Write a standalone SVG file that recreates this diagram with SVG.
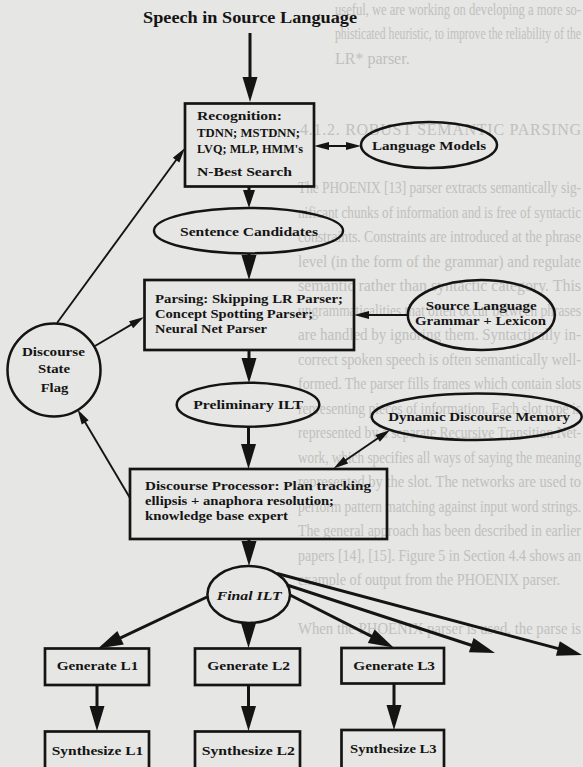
<svg xmlns="http://www.w3.org/2000/svg" width="583" height="767" viewBox="0 0 583 767">
<style>
.bg{fill:#e6e6e4}
.ghost{font-family:"Liberation Serif",serif;font-size:16px;fill:#c0c0be}
.box{fill:none;stroke:#141414;stroke-width:2.7}
.ell{fill:none;stroke:#141414;stroke-width:2.5}
.t{font-family:"Liberation Serif",serif;font-weight:bold;fill:#141414}
.s12{font-size:12px}
.s13{font-size:13px}
.s16{font-size:16.5px}
.thick{fill:none;stroke:#141414;stroke-width:3}
.thin{fill:none;stroke:#141414;stroke-width:1.9}
</style>
<defs>
<marker id="big" markerUnits="userSpaceOnUse" markerWidth="25" markerHeight="15" refX="17" refY="7.5" orient="auto" overflow="visible">
<path d="M0,0 L25,7.5 L0,15 Z" fill="#141414"/>
</marker>
<marker id="mid" markerUnits="userSpaceOnUse" markerWidth="18" markerHeight="12" refX="12" refY="6" orient="auto" overflow="visible">
<path d="M0,0 L18,6 L0,12 Z" fill="#141414"/>
</marker>
<marker id="sm" markerUnits="userSpaceOnUse" markerWidth="15" markerHeight="8" refX="10" refY="4" orient="auto-start-reverse" overflow="visible">
<path d="M0,0 L15,4 L0,8 Z" fill="#141414"/>
</marker>
</defs>
<rect class="bg" x="0" y="0" width="583" height="767"/>

<g id="ghost-text" class="ghost">
<text x="335" y="15" textLength="246" lengthAdjust="spacingAndGlyphs">useful, we are working on developing a more so-</text>
<text x="335" y="39" textLength="246" lengthAdjust="spacingAndGlyphs">phisticated heuristic, to improve the reliability of the</text>
<text x="335" y="64">LR* parser.</text>
<text x="300" y="135" textLength="281" lengthAdjust="spacing">4.1.2.   ROBUST SEMANTIC PARSING</text>
<text x="298" y="193" textLength="283" lengthAdjust="spacingAndGlyphs">The PHOENIX [13] parser extracts semantically sig-</text>
<text x="298" y="217.5" textLength="283" lengthAdjust="spacingAndGlyphs">nificant chunks of information and is free of syntactic</text>
<text x="298" y="242" textLength="283" lengthAdjust="spacingAndGlyphs">constraints. Constraints are introduced at the phrase</text>
<text x="298" y="266.5" textLength="283" lengthAdjust="spacingAndGlyphs">level (in the form of the grammar) and regulate</text>
<text x="298" y="291" textLength="283" lengthAdjust="spacingAndGlyphs">semantic rather than syntactic category. This</text>
<text x="298" y="315.5" textLength="283" lengthAdjust="spacingAndGlyphs">ungrammaticalities that often occur between phrases</text>
<text x="298" y="340" textLength="283" lengthAdjust="spacingAndGlyphs">are handled by ignoring them. Syntactically in-</text>
<text x="298" y="364.5" textLength="283" lengthAdjust="spacingAndGlyphs">correct spoken speech is often semantically well-</text>
<text x="298" y="389" textLength="283" lengthAdjust="spacingAndGlyphs">formed.  The parser fills frames which contain slots</text>
<text x="298" y="413.5" textLength="283" lengthAdjust="spacingAndGlyphs">representing pieces of information. Each slot type is</text>
<text x="298" y="438" textLength="283" lengthAdjust="spacingAndGlyphs">represented by a separate Recursive Transition Net-</text>
<text x="298" y="462.5" textLength="283" lengthAdjust="spacingAndGlyphs">work, which specifies all ways of saying the meaning</text>
<text x="298" y="487" textLength="283" lengthAdjust="spacingAndGlyphs">represented by the slot. The networks are used to</text>
<text x="298" y="511.5" textLength="283" lengthAdjust="spacingAndGlyphs">perform pattern matching against input word strings.</text>
<text x="298" y="536" textLength="283" lengthAdjust="spacingAndGlyphs">The general approach has been described in earlier</text>
<text x="298" y="560.5" textLength="283" lengthAdjust="spacingAndGlyphs">papers [14], [15]. Figure 5 in Section 4.4 shows an</text>
<text x="298" y="585" textLength="262" lengthAdjust="spacingAndGlyphs">example of output from the PHOENIX parser.</text>
<text x="298" y="634" textLength="283" lengthAdjust="spacingAndGlyphs">When the PHOENIX parser is used, the parse is</text>
</g>

<g id="connectors">
<line class="thick" x1="250" y1="33" x2="250" y2="94" marker-end="url(#big)"/>
<line class="thick" x1="249" y1="187" x2="249" y2="202" marker-end="url(#mid)"/>
<line class="thick" x1="249" y1="254" x2="249" y2="272" marker-end="url(#big)"/>
<line class="thick" x1="249" y1="351" x2="249" y2="375" marker-end="url(#big)"/>
<line class="thick" x1="248.5" y1="427" x2="248.5" y2="461" marker-end="url(#big)"/>
<line class="thick" x1="249" y1="540" x2="249" y2="558" marker-end="url(#big)"/>
<line class="thick" x1="248.5" y1="623" x2="248.5" y2="640" marker-end="url(#big)"/>
<line class="thick" x1="97" y1="685" x2="97" y2="723" marker-end="url(#big)"/>
<line class="thick" x1="248.5" y1="685" x2="248.5" y2="723" marker-end="url(#big)"/>
<line class="thick" x1="394" y1="683.5" x2="394" y2="722" marker-end="url(#big)"/>
<line class="thick" x1="207" y1="597" x2="105.2" y2="645.1" marker-end="url(#big)"/>
<line class="thick" x1="290" y1="595" x2="386.4" y2="643.9" marker-end="url(#big)"/>
<line class="thick" x1="287" y1="585" x2="487.4" y2="650.5" marker-end="url(#big)"/>
<line class="thick" x1="277" y1="573.5" x2="574.3" y2="652.9" marker-end="url(#big)"/>
<line class="thin" x1="319" y1="146" x2="356" y2="146" marker-start="url(#sm)" marker-end="url(#sm)"/>
<line class="thin" x1="408" y1="315" x2="359" y2="315" marker-end="url(#sm)"/>
<line class="thin" x1="337.6" y1="465.7" x2="385.9" y2="432.8" marker-start="url(#sm)" marker-end="url(#sm)"/>
<line class="thin" x1="57" y1="323" x2="182" y2="152" marker-end="url(#sm)"/>
<line class="thin" x1="95" y1="346" x2="139.7" y2="319.6" marker-end="url(#sm)"/>
<line class="thin" x1="130" y1="498" x2="80.1" y2="413.8" marker-end="url(#sm)"/>
</g>

<g id="speech-input">
<text class="t s16" x="143" y="22.7" textLength="214" lengthAdjust="spacingAndGlyphs">Speech in Source Language</text>
</g>

<g id="recognition">
<rect class="box" x="185" y="103.5" width="129" height="83"/>
<text class="t s12" x="197" y="119.5" textLength="85" lengthAdjust="spacingAndGlyphs">Recognition:</text>
<text class="t s12" x="197" y="136.5" textLength="103" lengthAdjust="spacingAndGlyphs">TDNN; MSTDNN;</text>
<text class="t s12" x="197" y="153" textLength="106" lengthAdjust="spacingAndGlyphs">LVQ; MLP, HMM's</text>
<text class="t s12" x="197" y="176" textLength="95" lengthAdjust="spacingAndGlyphs">N-Best Search</text>
</g>

<g id="language-models">
<ellipse class="ell" cx="429" cy="145" rx="68" ry="23"/>
<text class="t s12" x="372" y="149.5" textLength="114" lengthAdjust="spacingAndGlyphs">Language Models</text>
</g>

<g id="sentence-candidates">
<ellipse class="ell" cx="248.5" cy="230.7" rx="94.5" ry="22.7"/>
<text class="t s13" x="180" y="236" textLength="138" lengthAdjust="spacingAndGlyphs">Sentence Candidates</text>
</g>

<g id="parsing">
<rect class="box" x="144.5" y="280" width="209.5" height="70"/>
<text class="t s12" x="155" y="302.5" textLength="188" lengthAdjust="spacingAndGlyphs">Parsing: Skipping LR Parser;</text>
<text class="t s12" x="155" y="317.5" textLength="158" lengthAdjust="spacingAndGlyphs">Concept Spotting Parser;</text>
<text class="t s12" x="155" y="332.5" textLength="112" lengthAdjust="spacingAndGlyphs">Neural Net Parser</text>
</g>

<g id="source-grammar">
<ellipse class="ell" cx="481.3" cy="315" rx="73.5" ry="35"/>
<text class="t s12" x="425.7" y="310" textLength="111" lengthAdjust="spacingAndGlyphs">Source Language</text>
<text class="t s12" x="415" y="325" textLength="131" lengthAdjust="spacingAndGlyphs">Grammar + Lexicon</text>
</g>

<g id="discourse-state-flag">
<circle class="ell" cx="54" cy="370" r="46.5"/>
<text class="t s12" x="53.4" y="355.7" text-anchor="middle" textLength="63" lengthAdjust="spacingAndGlyphs">Discourse</text>
<text class="t s12" x="54" y="373.3" text-anchor="middle" textLength="32" lengthAdjust="spacingAndGlyphs">State</text>
<text class="t s12" x="54.5" y="392" text-anchor="middle" textLength="27.6" lengthAdjust="spacingAndGlyphs">Flag</text>
</g>

<g id="preliminary-ilt">
<ellipse class="ell" cx="248" cy="404.7" rx="71.3" ry="22"/>
<text class="t s12" x="193.3" y="408.5" textLength="110" lengthAdjust="spacingAndGlyphs">Preliminary ILT</text>
</g>

<g id="dynamic-discourse-memory">
<ellipse class="ell" cx="476.7" cy="416.7" rx="105" ry="23.3"/>
<text class="t s12" x="388.3" y="421" textLength="181.7" lengthAdjust="spacingAndGlyphs">Dynamic Discourse Memory</text>
</g>

<g id="discourse-processor">
<rect class="box" x="130" y="469" width="257" height="70"/>
<text class="t s12" x="145" y="490" textLength="226" lengthAdjust="spacingAndGlyphs">Discourse Processor: Plan tracking</text>
<text class="t s12" x="145" y="505" textLength="189" lengthAdjust="spacingAndGlyphs">ellipsis + anaphora resolution;</text>
<text class="t s12" x="145" y="520" textLength="143" lengthAdjust="spacingAndGlyphs">knowledge base expert</text>
</g>

<g id="final-ilt">
<ellipse class="ell" cx="248.7" cy="594.5" rx="41.3" ry="28.5"/>
<text class="t s12" x="216.7" y="599.5" font-style="italic" textLength="65" lengthAdjust="spacingAndGlyphs">Final ILT</text>
</g>

<g id="generate-l1">
<rect class="box" x="45" y="648.5" width="104" height="36.5"/>
<text class="t s12" x="56.7" y="670" textLength="81.6" lengthAdjust="spacingAndGlyphs">Generate L1</text>
</g>
<g id="generate-l2">
<rect class="box" x="195" y="648.5" width="105" height="36.5"/>
<text class="t s12" x="207.3" y="670" textLength="82.7" lengthAdjust="spacingAndGlyphs">Generate L2</text>
</g>
<g id="generate-l3">
<rect class="box" x="341.5" y="648" width="102.5" height="35.5"/>
<text class="t s12" x="353.3" y="669.5" textLength="81.7" lengthAdjust="spacingAndGlyphs">Generate L3</text>
</g>

<g id="synthesize-l1">
<rect class="box" x="45" y="731.5" width="104" height="45"/>
<text class="t s12" x="51.7" y="755" textLength="91.6" lengthAdjust="spacingAndGlyphs">Synthesize L1</text>
</g>
<g id="synthesize-l2">
<rect class="box" x="195" y="731.5" width="105" height="45"/>
<text class="t s12" x="201.7" y="755" textLength="93.3" lengthAdjust="spacingAndGlyphs">Synthesize L2</text>
</g>
<g id="synthesize-l3">
<rect class="box" x="341.5" y="730" width="102.5" height="47"/>
<text class="t s12" x="350" y="753" textLength="86.7" lengthAdjust="spacingAndGlyphs">Synthesize L3</text>
</g>
</svg>
